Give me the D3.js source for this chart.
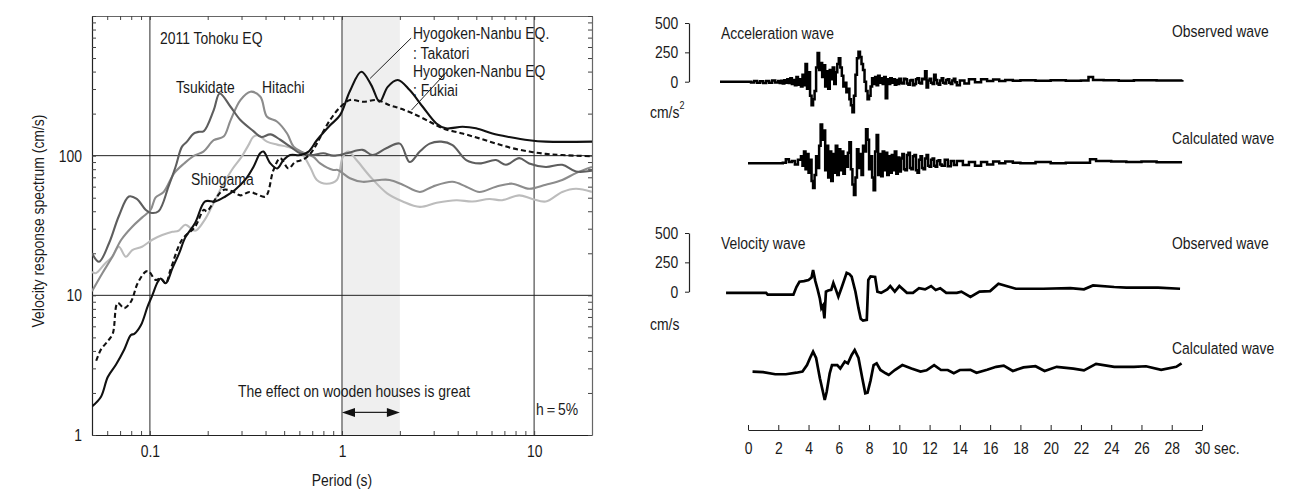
<!DOCTYPE html>
<html>
<head>
<meta charset="utf-8">
<script src="https://cdn.jsdelivr.net/npm/d3@7"></script>
<style>
html, body { margin: 0; padding: 0; background: #fff; }
svg { display: block; font-family: "Liberation Sans", Arial, sans-serif; }
svg text { fill: #1a1a1a; font-size: 17px; }
</style>
</head>
<body>
<script>
// Data
// Velocity response spectra, h = 5%  [period (s), velocity (cm/s)]
const tsukidate = [[0.05,20],[0.0544,17.4],[0.0613,23.6],[0.069,37],[0.0778,51],[0.0855,49],[0.095,41],[0.101,39],[0.111,40],[0.125,60],[0.136,83],[0.147,116],[0.156,126],[0.169,144],[0.179,148],[0.191,150],[0.215,212],[0.231,279],[0.263,224],[0.296,180],[0.346,150],[0.38,136],[0.424,142],[0.477,130],[0.538,116],[0.606,104],[0.69,101],[0.80,104],[0.90,100],[1.06,104],[1.28,110],[1.44,101],[1.70,113],[2.0,122],[2.25,90],[2.54,107],[2.86,122],[3.28,126],[3.76,119],[4.43,93],[5.19,88],[6.33,93],[7.13,86],[8.36,96],[9.42,88],[11.5,83],[14.0,86],[16.5,77],[20,78]];
const hitachi = [[0.05,10.7],[0.0566,14.4],[0.0638,18.9],[0.071,25],[0.081,31],[0.091,36],[0.101,41],[0.107,50],[0.118,55],[0.134,75],[0.151,88],[0.17,100],[0.19,107],[0.215,129],[0.242,137],[0.263,179],[0.296,250],[0.334,287],[0.376,264],[0.407,190],[0.46,175],[0.518,144],[0.56,116],[0.63,105],[0.71,98],[0.77,88],[0.90,79],[0.95,79],[1.10,69],[1.28,65],[1.57,67],[1.77,67],[2.07,62],[2.54,55],[2.96,60],[3.76,65],[4.43,60],[5.19,55],[6.33,60],[7.69,63],[9.42,58],[11.5,62],[14.0,67],[16.5,75],[20,83]];
const shiogama = [[0.05,14.7],[0.0523,14.4],[0.0585,16.9],[0.0638,18.9],[0.069,22.3],[0.075,18.9],[0.081,21.1],[0.091,22.3],[0.103,25],[0.116,27],[0.131,28.5],[0.141,29],[0.153,32],[0.172,29],[0.191,34],[0.21,43],[0.237,60],[0.267,79],[0.30,98],[0.326,119],[0.345,136],[0.367,140],[0.407,126],[0.46,120],[0.518,116],[0.606,107],[0.682,83],[0.74,67],[0.83,63],[0.94,67],[1.01,98],[1.078,107],[1.19,93],[1.40,71],[1.71,54],[2.07,47],[2.54,43],[3.11,46],[3.94,48],[4.77,47],[5.85,49],[6.82,48],[8.36,52],[9.77,49],[11.5,47],[14.0,55],[16.5,58],[20,55]];
const takatori = [[0.05,1.6],[0.0557,1.88],[0.0604,2.6],[0.0667,3.2],[0.0736,4.1],[0.0797,5.2],[0.083,5.3],[0.0898,6.1],[0.0973,8.3],[0.103,10],[0.11,12.5],[0.114,13.2],[0.121,12.2],[0.131,15.6],[0.142,20],[0.153,26],[0.172,33],[0.194,47],[0.219,47],[0.247,51],[0.278,57],[0.313,67],[0.346,83],[0.375,104],[0.39,107],[0.424,88],[0.46,81],[0.496,93],[0.538,101],[0.606,101],[0.67,107],[0.74,129],[0.867,165],[0.977,195],[1.10,290],[1.26,399],[1.42,320],[1.57,243],[1.73,311],[1.95,348],[2.25,295],[2.63,224],[3.10,170],[3.47,157],[4.24,161],[4.98,157],[6.06,144],[7.41,136],[9.42,129],[11.5,126],[20,126]];
const fukiai = [[0.0526,3.4],[0.0557,4.1],[0.0604,4.7],[0.0641,5.3],[0.068,8.8],[0.0736,8.1],[0.0797,9.0],[0.0864,12.2],[0.0953,14.8],[0.099,14.8],[0.107,12.9],[0.114,13.2],[0.121,12.2],[0.128,15.2],[0.147,25],[0.172,31],[0.191,41],[0.198,40],[0.224,51],[0.243,57],[0.273,55],[0.296,52],[0.33,55],[0.36,53],[0.40,51],[0.44,79],[0.477,96],[0.526,81],[0.57,90],[0.62,93],[0.67,100],[0.725,116],[0.78,140],[0.867,180],[0.977,222],[1.10,250],[1.29,243],[1.52,250],[1.77,230],[2.0,218],[2.33,201],[2.86,175],[3.34,157],[4.24,144],[5.19,133],[6.33,122],[7.72,113],[9.42,107],[11.5,103],[14.0,101],[20,99]];

// Waveforms  [time (s), amplitude]
const accObserved = [[-1.85,0],[0,0],[0.2,-6],[0.4,5],[0.6,-10],[0.8,4],[1.0,-12],[1.2,6],[1.4,-8],[1.6,10],[1.8,-6],[2.0,5],[2.1,-12],[2.2,9],[2.3,-15],[2.4,12],[2.5,-10],[2.6,20],[2.7,-12],[2.8,30],[2.9,-20],[3.0,15],[3.1,-30],[3.2,40],[3.3,-25],[3.4,20],[3.5,-40],[3.6,60],[3.7,-30],[3.8,150],[3.9,-60],[4.0,80],[4.1,-120],[4.2,-200],[4.3,-150],[4.4,-80],[4.5,120],[4.6,245],[4.7,100],[4.8,160],[4.9,40],[5.0,140],[5.1,-40],[5.2,90],[5.3,-60],[5.4,100],[5.5,20],[5.6,120],[5.7,-20],[5.8,80],[5.9,150],[6.0,200],[6.1,120],[6.2,50],[6.3,-40],[6.4,-10],[6.5,-90],[6.6,-60],[6.7,-150],[6.8,-200],[6.9,-260],[7.0,-120],[7.1,60],[7.2,200],[7.3,255],[7.4,210],[7.5,150],[7.6,100],[7.7,0],[7.8,-80],[7.9,-150],[8.0,-120],[8.1,-40],[8.2,30],[8.3,-20],[8.4,40],[8.5,-30],[8.6,50],[8.7,-10],[8.8,30],[8.9,-20],[9.0,40],[9.1,-140],[9.2,20],[9.3,-20],[9.4,30],[9.5,-10],[9.6,20],[9.7,-25],[9.8,15],[9.9,-20],[10.0,25],[10.1,-10],[10.2,-15],[10.3,25],[10.4,20],[10.5,-15],[10.6,-25],[10.7,10],[10.8,15],[10.9,-30],[11.0,-20],[11.1,20],[11.2,30],[11.3,-10],[11.4,-15],[11.5,25],[11.6,20],[11.7,90],[11.8,-50],[11.9,10],[12.0,25],[12.1,-10],[12.2,-20],[12.3,60],[12.4,15],[12.5,-15],[12.6,-25],[12.7,10],[12.8,30],[12.9,-10],[13.0,-15],[13.1,15],[13.2,20],[13.3,-10],[13.4,-20],[13.5,10],[13.6,25],[13.7,-5],[13.8,-30],[14.0,10],[14.3,-15],[14.6,20],[15.0,-5],[15.4,20],[15.8,5],[16.2,18],[16.6,5],[17.0,15],[17.5,8],[18.0,12],[19.0,8],[20.0,12],[21.0,8],[22.0,10],[22.5,40],[22.8,15],[23.5,12],[24.5,8],[25.5,12],[27.0,10],[28.7,15]];
const accCalculated = [[0,0],[2.0,0],[2.3,5],[2.5,35],[2.7,10],[2.9,20],[3.1,-10],[3.3,30],[3.5,60],[3.6,-20],[3.7,100],[3.8,-50],[3.9,80],[4.0,-80],[4.1,30],[4.2,-150],[4.3,-210],[4.4,-100],[4.5,60],[4.6,-40],[4.7,150],[4.8,330],[4.9,200],[5.0,280],[5.1,-60],[5.2,150],[5.3,-120],[5.4,100],[5.5,-150],[5.6,80],[5.7,-80],[5.8,150],[5.9,-100],[6.0,120],[6.1,-60],[6.2,100],[6.3,-90],[6.4,60],[6.5,-30],[6.6,90],[6.7,180],[6.8,-50],[6.9,-180],[7.0,-270],[7.1,-120],[7.2,120],[7.3,-40],[7.4,80],[7.5,-100],[7.6,150],[7.7,100],[7.8,290],[7.9,200],[8.0,-50],[8.1,60],[8.2,-120],[8.3,-230],[8.4,100],[8.5,240],[8.6,-100],[8.7,80],[8.8,-110],[8.9,100],[9.0,-60],[9.1,90],[9.2,-100],[9.3,60],[9.4,-80],[9.5,70],[9.6,-60],[9.7,100],[9.8,-90],[9.9,50],[10.0,-70],[10.1,40],[10.2,80],[10.3,-50],[10.4,-60],[10.5,70],[10.6,90],[10.7,-40],[10.8,-50],[10.9,60],[11.0,70],[11.1,-60],[11.2,-80],[11.3,30],[11.4,60],[11.5,-40],[11.6,-50],[11.7,40],[11.8,70],[11.9,-20],[12.0,-30],[12.1,30],[12.2,40],[12.3,-20],[12.4,-30],[12.5,20],[12.6,25],[12.7,-10],[12.8,-20],[13.0,30],[13.2,-25],[13.4,20],[13.6,-15],[13.8,20],[14.2,-15],[14.6,10],[15.0,-20],[15.4,10],[15.8,-10],[16.2,15],[16.6,0],[17.0,15],[17.5,5],[18.0,0],[19.0,10],[20.0,0],[21.0,5],[22.0,5],[22.6,35],[23.0,20],[24.0,15],[25.0,10],[26.0,15],[27.0,8],[28.6,20]];
const velObserved = [[-1.45,-10],[1.2,-10],[1.3,-25],[3.0,-25],[3.2,40],[3.4,85],[3.7,90],[4.0,100],[4.2,120],[4.3,185],[4.45,90],[4.6,20],[4.75,-60],[4.85,-141],[4.95,-120],[5.05,-227],[5.15,0],[5.3,10],[5.5,15],[5.64,75],[5.8,20],[5.97,-42],[6.2,40],[6.52,160],[6.7,150],[6.85,128],[7.1,0],[7.3,-140],[7.45,-230],[7.6,-245],[7.85,-240],[7.95,100],[8.1,130],[8.4,125],[8.55,0],[8.8,-10],[9.2,20],[9.4,48],[9.7,0],[10.0,48],[10.5,-10],[10.9,-10],[11.3,30],[11.7,20],[12.1,48],[12.4,15],[12.7,30],[13.1,-10],[13.8,-10],[14.1,0],[14.7,-45],[15.3,0],[16.0,5],[16.55,68],[17.3,40],[17.7,25],[19.5,25],[21.3,30],[22.2,20],[22.8,53],[24.2,40],[25.0,35],[27.1,35],[28.55,25]];
const velCalculated = [[0.3,15],[1.0,10],[1.8,-8],[2.5,-8],[3.2,5],[3.6,15],[3.9,70],[4.1,130],[4.3,184],[4.5,130],[4.75,-43],[4.95,-157],[5.07,-227],[5.2,-157],[5.4,0],[5.55,70],[5.9,70],[6.1,40],[6.4,100],[6.6,85],[6.85,156],[7.05,198],[7.3,130],[7.55,-40],[7.75,-170],[7.9,-165],[8.1,-60],[8.3,70],[8.5,85],[8.75,28],[9.1,0],[9.3,-14],[9.7,28],[10.2,70],[10.8,40],[11.4,14],[11.8,25],[12.3,70],[12.75,28],[13.2,28],[13.6,0],[14.0,28],[14.7,30],[15.1,5],[15.8,30],[16.4,55],[16.9,65],[17.5,20],[18.2,50],[19.0,60],[19.6,20],[20.4,55],[21.5,40],[22.2,25],[23.0,80],[24.2,55],[25.5,55],[26.3,60],[27.3,30],[28.3,55],[28.65,85]];

// Tick labels
const periodLabels = [0.1, 1, 10];
const spectrumLabels = [1, 10, 100];
const ampTicks = [0, 250, 500];
const timeTicks = d3.range(0, 31, 2);
const CALC_SHIFT = -695; // calculated trace drawn below the observed one

// Setup
const NARROW = "scale(0.82,1)";   // Arial-Narrow-like proportions
const svg = d3.select("body").append("svg").attr("width", 1303).attr("height", 490);

const sx = d3.scaleLog().domain([0.05, 20]).range([92, 592]);
const sy = d3.scaleLog().domain([1, 1000]).range([435, 16]);

const L = svg.append("g");
L.append("defs").append("clipPath").attr("id", "plotClip")
  .append("rect").attr("x", 92).attr("y", 16).attr("width", 500).attr("height", 419);

// Shaded band 1-2 s
L.append("rect")
  .attr("x", sx(1)).attr("y", 16)
  .attr("width", sx(2) - sx(1)).attr("height", 419)
  .attr("fill", "#efefef");

// Grid
L.selectAll(".vgrid").data(periodLabels).join("line")
  .attr("x1", d => sx(d)).attr("x2", d => sx(d))
  .attr("y1", 16).attr("y2", 435)
  .attr("stroke", "#7a7a7a").attr("stroke-width", 1.6);
L.selectAll(".hgrid").data([10, 100]).join("line")
  .attr("x1", 92).attr("x2", 592)
  .attr("y1", d => sy(d)).attr("y2", d => sy(d))
  .attr("stroke", "#222").attr("stroke-width", 1);

// Axes (inside minor ticks)
const fmtP = d => periodLabels.includes(+d.toPrecision(3)) ? String(+d.toPrecision(3)) : "";
const fmtV = d => spectrumLabels.includes(+d.toPrecision(3)) ? String(+d.toPrecision(3)) : "";

const styleAxis = (g, col) => {
  g.select(".domain").attr("stroke", col).attr("stroke-width", 1.2);
  g.selectAll(".tick line").attr("stroke", "#444");
  g.selectAll("text").attr("fill", "#1a1a1a").attr("font-size", "17px")
    .attr("font-family", "'Liberation Sans',Arial,sans-serif")
    .attr("transform", NARROW);
};

L.append("g").attr("transform", "translate(0,435)")
  .call(d3.axisBottom(sx).tickValues(sx.ticks()).tickFormat(fmtP).tickSize(-4).tickSizeOuter(0).tickPadding(10))
  .call(g => styleAxis(g, "#222"));
L.append("g").attr("transform", "translate(0,16)")
  .call(d3.axisTop(sx).tickValues(sx.ticks()).tickFormat("").tickSize(-4).tickSizeOuter(0))
  .call(g => styleAxis(g, "#666"));
L.append("g").attr("transform", "translate(92,0)")
  .call(d3.axisLeft(sy).tickValues(sy.ticks()).tickFormat(fmtV).tickSize(-4).tickSizeOuter(0).tickPadding(12.2))
  .call(g => styleAxis(g, "#222"));
L.append("g").attr("transform", "translate(592,0)")
  .call(d3.axisRight(sy).tickValues(sy.ticks()).tickFormat("").tickSize(-4).tickSizeOuter(0))
  .call(g => styleAxis(g, "#666"));

// Spectra
const spec = d3.line().x(d => sx(d[0])).y(d => sy(d[1])).curve(d3.curveCatmullRom.alpha(0.5));
const curves = L.append("g").attr("clip-path", "url(#plotClip)");
[
  { data: shiogama,  color: "#bcbcbc", dash: null },
  { data: hitachi,   color: "#8c8c8c", dash: null },
  { data: tsukidate, color: "#5e5e5e", dash: null },
  { data: fukiai,    color: "#111",    dash: "5 3" },
  { data: takatori,  color: "#111",    dash: null }
].forEach(s => {
  curves.append("path").attr("d", spec(s.data))
    .attr("fill", "none").attr("stroke", s.color).attr("stroke-width", 2.1)
    .attr("stroke-dasharray", s.dash);
});

// Annotations
const label = (g, x, y, t, opts = {}) => g.append("text")
  .attr("transform", `translate(${x},${y}) ${opts.rotate ? "rotate(-90) " : ""}${NARROW}`)
  .attr("text-anchor", opts.anchor || "start").text(t);

label(L, 160, 43.5, "2011 Tohoku EQ");
label(L, 176, 93, "Tsukidate");
label(L, 262, 93, "Hitachi");
label(L, 191, 184.5, "Shiogama");
label(L, 413, 39, "Hyogoken-Nanbu EQ.");
label(L, 413, 58.5, ": Takatori");
label(L, 413, 76.5, "Hyogoken-Nanbu EQ");
label(L, 413, 95.5, ": Fukiai");
label(L, 238, 397, "The effect on wooden houses is great");
label(L, 536, 415, "h＝5%");

// leader lines
[[[2.29, 695], [1.40, 357]], [[3.5, 397], [2.30, 212]]].forEach(([a, b]) => {
  L.append("line")
    .attr("x1", sx(a[0])).attr("y1", sy(a[1]))
    .attr("x2", sx(b[0])).attr("y2", sy(b[1]))
    .attr("stroke", "#222").attr("stroke-width", 1);
});

// double arrow 1-2 s
const ay0 = sy(1.45), ax1 = sx(1), ax2 = sx(2);
L.append("line").attr("x1", ax1 + 10).attr("x2", ax2 - 10).attr("y1", ay0).attr("y2", ay0)
  .attr("stroke", "#222").attr("stroke-width", 1.3);
L.append("path").attr("d", `M${ax1},${ay0}L${ax1 + 13},${ay0 - 4.5}L${ax1 + 13},${ay0 + 4.5}Z`).attr("fill", "#111");
L.append("path").attr("d", `M${ax2},${ay0}L${ax2 - 13},${ay0 - 4.5}L${ax2 - 13},${ay0 + 4.5}Z`).attr("fill", "#111");

// axis titles
label(L, 44, 221, "Velocity response spectrum (cm/s)", { rotate: true, anchor: "middle" });
label(L, 342, 486, "Period (s)", { anchor: "middle" });

// Waveforms
const tx = d3.scaleLinear().domain([0, 30]).range([748, 1202]);
const accY = d3.scaleLinear().domain([0, 500]).range([81.7, 23]);
const velY = d3.scaleLinear().domain([0, 500]).range([291.7, 233]);

const R = svg.append("g");

const styleR = g => {
  g.select(".domain").attr("stroke", "#222").attr("stroke-width", 1.2);
  g.selectAll(".tick line").attr("stroke", "#222");
  g.selectAll("text").attr("fill", "#1a1a1a").attr("font-size", "17px")
    .attr("font-family", "'Liberation Sans',Arial,sans-serif")
    .attr("transform", NARROW);
};

const ampAxis = (y) => R.append("g").attr("transform", "translate(689,0)")
  .call(d3.axisLeft(y).tickValues(ampTicks).tickSize(4).tickSizeOuter(0).tickPadding(9))
  .call(styleR);
ampAxis(accY);
ampAxis(velY);

R.append("g").attr("transform", "translate(0,430)")
  .call(d3.axisBottom(tx).tickValues(timeTicks).tickSize(-5).tickSizeOuter(0).tickPadding(12))
  .call(styleR);
label(R, 1214, 454, "sec.");

const accLine = (shift) => d3.line().x(d => tx(d[0])).y(d => accY(d[1] + shift)).curve(d3.curveStepAfter);
const velLine = (shift) => d3.line().x(d => tx(d[0])).y(d => velY(d[1] + shift)).curve(d3.curveLinear);

[
  { d: accLine(0)(accObserved), w: 2.5 },
  { d: accLine(CALC_SHIFT)(accCalculated), w: 2.5 },
  { d: velLine(0)(velObserved), w: 2.7 },
  { d: velLine(CALC_SHIFT)(velCalculated), w: 2.7 }
].forEach(p => {
  R.append("path").attr("d", p.d).attr("fill", "none")
    .attr("stroke", "#000").attr("stroke-width", p.w).attr("stroke-linejoin", "miter");
});

label(R, 721, 38.5, "Acceleration wave");
label(R, 1172, 37, "Observed wave");
label(R, 1172, 144, "Calculated wave");
label(R, 721, 249, "Velocity wave");
label(R, 1172, 249, "Observed wave");
label(R, 1172, 354, "Calculated wave");
const u1 = label(R, 650, 118, "cm/s");
u1.append("tspan").attr("dy", -9).attr("font-size", "11px").text("2");
label(R, 650, 329.5, "cm/s");
</script>
</body>
</html>
